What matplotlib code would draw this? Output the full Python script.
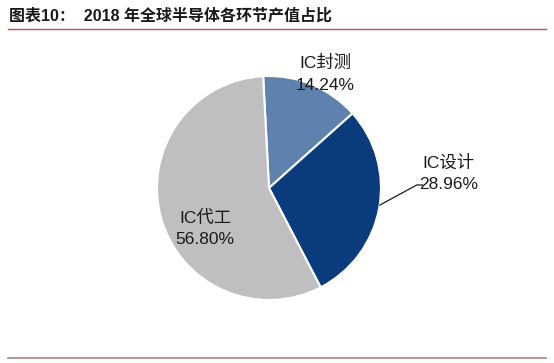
import matplotlib.pyplot as plt
from matplotlib.lines import Line2D

fonts = ['Liberation Sans', 'Noto Sans CJK SC', 'DejaVu Sans']
plt.rcParams['font.family'] = fonts

# Data
labels = ['IC封测', 'IC设计', 'IC代工']
shares = [14.24, 28.96, 56.80]
colors = ['#5e82ad', '#0a3b7c', '#bfbfc1']

fig = plt.figure(figsize=(5.54, 3.63), dpi=100)

# title and rules
fig.text(0.016, 0.957, '图表10：  2018 年全球半导体各环节产值占比', fontsize=11.5,
         fontweight='bold', ha='left', va='center', color='#1a1a1a')
fig.add_artist(Line2D([0.014, 0.985], [0.92, 0.92], color='#c0504d', lw=1.0))
fig.add_artist(Line2D([0.014, 0.985], [0.014, 0.014], color='#b08080', lw=1.2))

ax = fig.add_axes([0.2834, 0.1736, 0.4043, 0.617])
ax.pie(shares, colors=colors, startangle=93, counterclock=False,
       wedgeprops=dict(edgecolor='white', linewidth=1.5))
ax.set_xlim(-1, 1)
ax.set_ylim(-1, 1)
ax.set_aspect('equal')
ax.axis('off')

# labels
pos = [(0.50, 1.02), (1.6, 0.13), (-0.57, -0.36)]
for lab, val, (x, y) in zip(labels, shares, pos):
    ax.text(x, y, f'{lab}\n{val:.2f}%', ha='center', va='center', fontsize=12.5,
            linespacing=1.55, color='#1a1a1a', clip_on=False)

# leader line for IC设计
ax.plot([0.99, 1.32, 1.37], [-0.152, 0.027, 0.027], color='#1a1a1a', lw=0.9, clip_on=False)

fig.savefig('out.png', dpi=100)
